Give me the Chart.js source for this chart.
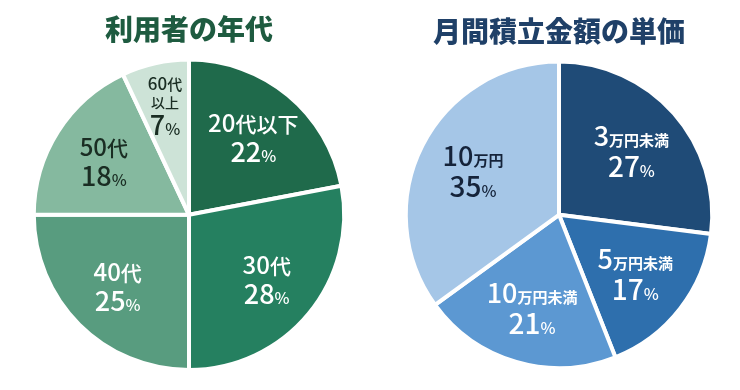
<!DOCTYPE html>
<html lang="ja">
<head>
<meta charset="utf-8">
<script src="https://cdn.jsdelivr.net/npm/chart.js@4/dist/chart.umd.min.js"></script>
<style>
  body { margin: 0; background: #fff; }
  .wrap { display: flex; width: 740px; height: 390px; }
  .box { position: relative; width: 370px; height: 390px; }
</style>
</head>
<body>
<div class="wrap">
  <div class="box"><canvas id="ageChart"></canvas></div>
  <div class="box"><canvas id="amountChart"></canvas></div>
</div>
<script>
// 利用者の年代
const ageLabels = ['20代以下', '30代', '40代', '50代', '60代以上']
const ageLines = [['20代以下'], ['30代'], ['40代'], ['50代'], ['60代', '以上']]
const ageValues = [22, 28, 25, 18, 7]
const ageColors = ['#1f6a4b', '#258060', '#589c7f', '#85b99f', '#cde3d7']
const ageTextColors = ['#fff', '#fff', '#fff', '#1a2d23', '#1a2d23']

// 月間積立金額の単価
const amountLabels = ['3万円未満', '5万円未満', '10万円未満', '10万円']
const amountLines = [['3万円未満'], ['5万円未満'], ['10万円未満'], ['10万円']]
const amountValues = [27, 17, 21, 35]
const amountColors = ['#1f4b77', '#2e6fad', '#5c98d2', '#a5c6e7']
const amountTextColors = ['#fff', '#fff', '#fff', '#15233a']

Chart.defaults.font.family = "'Noto Sans CJK JP', 'Noto Sans', sans-serif"

// draw one line made of runs: digits big, the rest small
function drawRuns(ctx, runs, cx, baseline) {
    let total = 0
    for (const r of runs) {
        ctx.font = `${r.weight} ${r.size}px 'Noto Sans CJK JP', sans-serif`
        r.w = ctx.measureText(r.text).width
        total += r.w
    }
    let x = cx - total / 2
    for (const r of runs) {
        ctx.font = `${r.weight} ${r.size}px 'Noto Sans CJK JP', sans-serif`
        ctx.fillText(r.text, x, baseline)
        x += r.w
    }
}

function splitRuns(text, big, small, smallWeight) {
    const runs = []
    const m = text.match(/^(\d*)(.*)$/)
    if (m[1]) runs.push({ text: m[1], size: big, weight: 500 })
    if (m[2]) runs.push({ text: m[2], size: small, weight: smallWeight })
    return runs
}

// labels inside the slices
const sliceLabels = {
    id: 'sliceLabels',
    afterDatasetsDraw(chart, args, opts) {
        const { ctx } = chart
        const meta = chart.getDatasetMeta(0)
        const values = chart.data.datasets[0].data
        ctx.save()
        ctx.textAlign = 'left'
        ctx.textBaseline = 'alphabetic'
        meta.data.forEach((arc, i) => {
            const p = arc.getProps(['x', 'y', 'startAngle', 'endAngle', 'outerRadius'], true)
            const mid = (p.startAngle + p.endAngle) / 2
            const multi = opts.lines[i].length > 1
            const rr = p.outerRadius * (multi ? opts.farFactor : opts.factor)
            const cx = p.x + Math.cos(mid) * rr
            const cy = p.y + Math.sin(mid) * rr

            const rows = []
            opts.lines[i].forEach((t, k) => {
                if (multi) {
                    rows.push({ runs: splitRuns(t, k === 0 ? 17 : 14, k === 0 ? 15 : 14, 500), lh: k === 0 ? 19 : 17 })
                } else {
                    rows.push({ runs: splitRuns(t, opts.numSize, opts.unitSize, opts.unitWeight), lh: opts.lh })
                }
            })
            rows.push({ runs: splitRuns(values[i] + '%', opts.pctNum, opts.pctSize, 500), lh: opts.lh })

            const H = rows.reduce((s, r) => s + r.lh, 0)
            let y = cy - H / 2
            ctx.fillStyle = opts.colors[i]
            for (const row of rows) {
                drawRuns(ctx, row.runs, cx, y + row.lh * 0.84)
                y += row.lh
            }
        })
        ctx.restore()
    }
}

function makePie(id, labels, values, colors, title, titleColor, pad, labelOpts) {
    return new Chart(document.getElementById(id), {
        type: 'pie',
        data: {
            labels,
            datasets: [{
                data: values,
                backgroundColor: colors,
                borderColor: '#fff',
                borderWidth: 4
            }]
        },
        options: {
            responsive: true,
            maintainAspectRatio: false,
            animation: false,
            layout: { padding: pad },
            plugins: {
                legend: { display: false },
                tooltip: { enabled: false },
                title: {
                    display: true,
                    text: title,
                    color: titleColor,
                    font: { size: 28, weight: 900 },
                    padding: { top: 13, bottom: 11 }
                },
                sliceLabels: labelOpts
            }
        },
        plugins: [sliceLabels]
    })
}

makePie('ageChart', ageLabels, ageValues, ageColors, '利用者の年代', '#1e5b40',
    { left: 8, right: 0, top: 0, bottom: 18 },
    { lines: ageLines, colors: ageTextColors, factor: 0.65, farFactor: 0.71,
      numSize: 24, unitSize: 21, unitWeight: 500, pctNum: 27, pctSize: 16, lh: 30 })

makePie('amountChart', amountLabels, amountValues, amountColors, '月間積立金額の単価', '#1f4068',
    { left: 8, right: 0, top: 2, bottom: 20 },
    { lines: amountLines, colors: amountTextColors, factor: 0.63, farFactor: 0.63,
      numSize: 27, unitSize: 15, unitWeight: 700, pctNum: 28, pctSize: 16, lh: 31 })
</script>
</body>
</html>
